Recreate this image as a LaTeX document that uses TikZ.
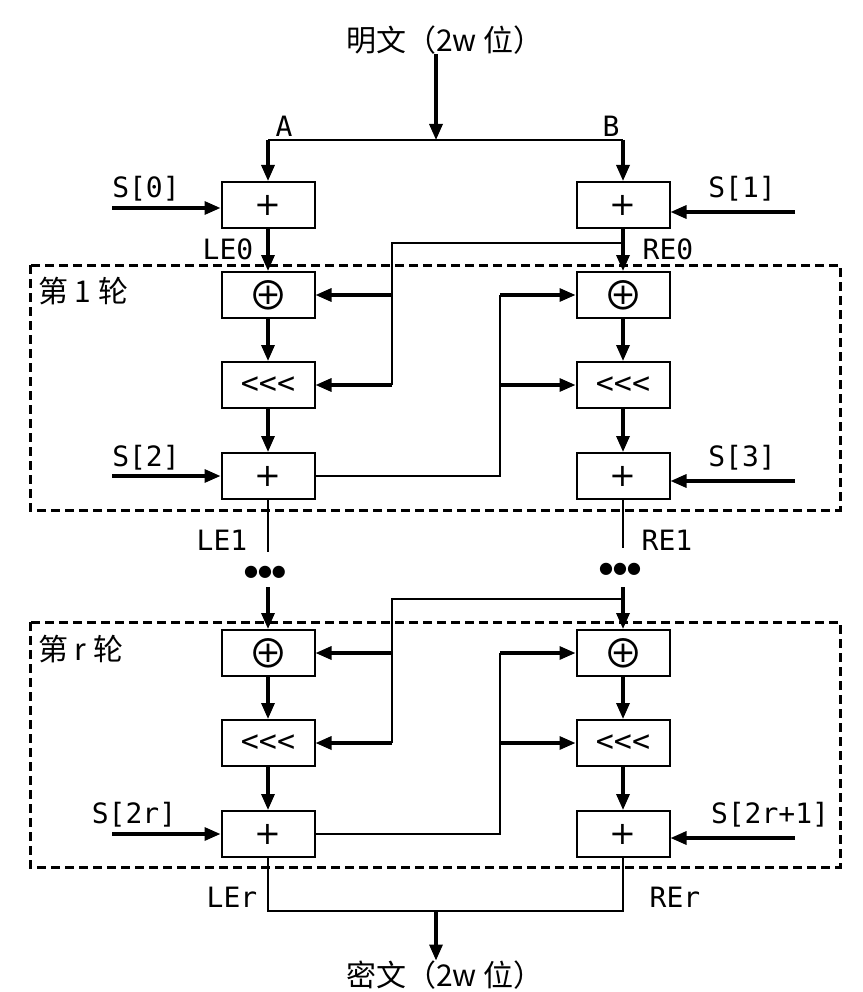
\documentclass[tikz,border=0pt]{standalone}
\usepackage{fontspec}
\setmainfont{Noto Sans CJK SC}
\newfontfamily\monofont{DejaVu Sans Mono}
\newfontfamily\symfont{DejaVu Sans}
\usepackage{tikz}
\usetikzlibrary{arrows.meta, positioning, calc}

\begin{document}
\begin{tikzpicture}[x=1pt, y=-1pt,
    opbox/.style={draw, line width=2pt, minimum width=93pt, minimum height=46pt, inner sep=0pt},
    addop/.style={opbox, font=\symfont\fontsize{32}{32}\selectfont},
    xorop/.style={opbox, font=\fontsize{40}{40}\selectfont},
    rotop/.style={opbox, font=\monofont\fontsize{30}{30}\selectfont},
    lbl/.style={inner sep=0pt, font=\monofont\fontsize{28}{28}\selectfont},
    cjk/.style={inner sep=0pt, font=\fontsize{30}{32}\selectfont},
    dots/.style={inner sep=0pt, font=\symfont\fontsize{16}{16}\selectfont},
    flow/.style={line width=3.2pt, -{Triangle[length=16pt, width=13pt]}},
    link/.style={line width=2.2pt},
    roundbox/.style={draw, line width=3pt, dash pattern=on 9pt off 5pt}]
  \useasboundingbox (0,0) rectangle (862,992);

  % rounds
  \draw[roundbox] (30,265) rectangle (840,510);
  \draw[roundbox] (30,622) rectangle (840,867);
  \node[cjk, anchor=west] (rnd1) at (38,291) {第\ 1\ 轮};
  \node[cjk, anchor=west] (rndr) at (38,649) {第\ r\ 轮};

  % input
  \node[cjk] (plain) at (445,40) {明文（2w 位）};
  \coordinate (split) at (436,140);
  \node[addop] (la) at (268,205) {+};
  \node[addop] (ra) at (623,205) {+};
  \draw[flow] (plain.south -| split) -- (split);
  \draw[link] (split -| la) -- (split -| ra);
  \draw[flow] (split -| la) -- (la);
  \draw[flow] (split -| ra) -- (ra);
  \node[lbl] (lblA) at (284,126) {A};
  \node[lbl] (lblB) at (611,126) {B};

  \coordinate (s0) at (112,208);
  \coordinate (s1) at (795,212);
  \node[lbl] (s0txt) at (146,189) {S[0]};
  \node[lbl] (s1txt) at (742,189) {S[1]};
  \draw[flow] (s0) -- (s0 -| la.west);
  \draw[flow] (s1) -- (s1 -| ra.east);
  \node[lbl] (le0) at (228,249) {LE0};
  \node[lbl] (re0) at (668,249) {RE0};

  % round 1
  \node[xorop] (lx1) at (268,295) {⊕};
  \node[xorop] (rx1) at (623,295) {⊕};
  \node[rotop] (lr1) at (268,385) {<<<};
  \node[rotop] (rr1) at (623,385) {<<<};
  \node[addop] (lp1) at (268,476) {+};
  \node[addop] (rp1) at (623,476) {+};
  \draw[flow] (la) -- (lx1);
  \draw[flow] (ra) -- (rx1);
  \draw[flow] (lx1) -- (lr1);
  \draw[flow] (lr1) -- (lp1);
  \draw[flow] (rx1) -- (rr1);
  \draw[flow] (rr1) -- (rp1);

  \coordinate (fb1) at (392,243);
  \draw[link] (ra.south |- fb1) -- (fb1) -- (fb1 |- lr1);
  \draw[flow] (fb1 |- lx1) -- (lx1);
  \draw[flow] (fb1 |- lr1) -- (lr1);
  \coordinate (cr1) at (500,476);
  \draw[link] (lp1) -- (cr1) -- (cr1 |- rx1);
  \draw[flow] (cr1 |- rx1) -- (rx1);
  \draw[flow] (cr1 |- rr1) -- (rr1);

  \coordinate (s2) at (112,476);
  \coordinate (s3) at (795,481);
  \node[lbl] (s2txt) at (146,458) {S[2]};
  \node[lbl] (s3txt) at (742,458) {S[3]};
  \draw[flow] (s2) -- (s2 -| lp1.west);
  \draw[flow] (s3) -- (s3 -| rp1.east);

  % between rounds
  \coordinate (le1end) at (268,552);
  \coordinate (re1end) at (623,548);
  \draw[link] (lp1) -- (le1end);
  \draw[link] (rp1) -- (re1end);
  \node[lbl] (le1) at (222,540) {LE1};
  \node[lbl] (re1) at (667,540) {RE1};
  \node[dots] (ldots) at (265,572) {●●●};
  \node[dots] (rdots) at (620,569) {●●●};

  % round r
  \node[xorop] (lxr) at (268,653) {⊕};
  \node[xorop] (rxr) at (623,653) {⊕};
  \node[rotop] (lrr) at (268,743) {<<<};
  \node[rotop] (rrr) at (623,743) {<<<};
  \node[addop] (lpr) at (268,834) {+};
  \node[addop] (rpr) at (623,834) {+};
  \coordinate (lin) at (268,587);
  \coordinate (rin) at (623,587);
  \draw[flow] (lin) -- (lxr);
  \draw[flow] (rin) -- (rxr);
  \draw[flow] (lxr) -- (lrr);
  \draw[flow] (lrr) -- (lpr);
  \draw[flow] (rxr) -- (rrr);
  \draw[flow] (rrr) -- (rpr);

  \coordinate (fb2) at (392,599);
  \draw[link] (rin |- fb2) -- (fb2) -- (fb2 |- lrr);
  \draw[flow] (fb2 |- lxr) -- (lxr);
  \draw[flow] (fb2 |- lrr) -- (lrr);
  \coordinate (cr2) at (500,834);
  \draw[link] (lpr) -- (cr2) -- (cr2 |- rxr);
  \draw[flow] (cr2 |- rxr) -- (rxr);
  \draw[flow] (cr2 |- rrr) -- (rrr);

  \coordinate (s4) at (112,834);
  \coordinate (s5) at (795,838);
  \node[lbl] (s4txt) at (134,815) {S[2r]};
  \node[lbl] (s5txt) at (770,815) {S[2r+1]};
  \draw[flow] (s4) -- (s4 -| lpr.west);
  \draw[flow] (s5) -- (s5 -| rpr.east);

  % output
  \coordinate (join) at (436,911);
  \draw[link] (lpr) -- (lpr |- join) -- (rpr |- join) -- (rpr);
  \node[lbl] (ler) at (232,897) {LEr};
  \node[lbl] (rer) at (675,897) {REr};
  \node[cjk] (cipher) at (445,975) {密文（2w 位）};
  \draw[flow] (join) -- (cipher.north -| join);
\end{tikzpicture}
\end{document}
